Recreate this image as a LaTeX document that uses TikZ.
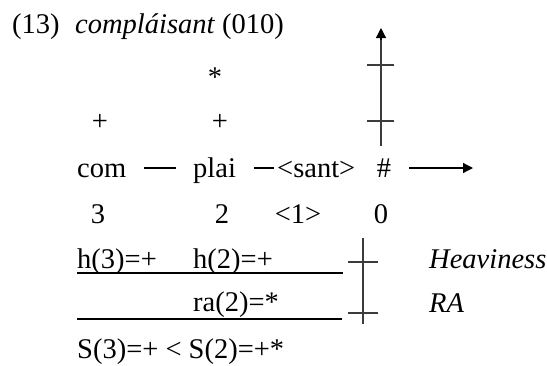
\documentclass[tikz,border=0pt]{standalone}
\usepackage{fontspec}
\setmainfont{Liberation Serif}
\usetikzlibrary{arrows.meta}
\definecolor{axisgray}{RGB}{60,60,60}
\tikzset{
  txt/.style={inner sep=0pt, anchor=base west, font=\fontsize{28.5}{32}\selectfont},
  ctxt/.style={inner sep=0pt, anchor=base, font=\fontsize{28.5}{32}\selectfont},
  itxt/.style={txt, font=\fontsize{28.5}{32}\selectfont\itshape},
  axisline/.style={axisgray, line width=1.3pt},
  tickline/.style={axisgray, line width=1.3pt},
  tip/.style={-{Triangle[length=10pt,width=10pt]}},
  syldash/.style={black, line width=1.2pt},
  rule/.style={black, line width=1.4pt}
}
\begin{document}
\begin{tikzpicture}[x=1pt,y=-1pt]
\useasboundingbox (0,0) rectangle (547,365);
% title
\node[txt] (num) at (12,33) {(13)};
\node[txt] (word) at (75,33) {\textit{compláisant} (010)};
% grid marks
\node[ctxt] (star) at (215,86) {*};
\node[ctxt] (plusA) at (100,130) {+};
\node[ctxt] (plusB) at (220,130) {+};
% syllables
\node[txt] (com) at (77,177) {com};
\node[txt] (plai) at (193,177) {plai};
\node[txt] (sant) at (277,177) {<sant>};
\node[ctxt] (hash) at (384,177) {\#};
\coordinate (d1a) at (144,168);
\coordinate (d1b) at (176,168);
\coordinate (d2a) at (254,168);
\coordinate (d2b) at (274,168);
\draw[syldash] (d1a) -- (d1b);
\draw[syldash] (d2a) -- (d2b);
% horizontal arrow
\coordinate (hA) at (409,168);
\coordinate (hB) at (473,168);
\draw[black, line width=1.2pt, tip] (hA) -- (hB);
% vertical axis
\coordinate (vA) at (381,146);
\coordinate (vM) at (381,40);
\coordinate (vB) at (381,28);
\draw[axisline] (vA) -- (vM);
\draw[black, line width=1.2pt, tip] (vM) -- (vB);
\coordinate (t1a) at (367,65);
\coordinate (t1b) at (394,65);
\coordinate (t2a) at (367,121);
\coordinate (t2b) at (394,121);
\draw[tickline] (t1a) -- (t1b);
\draw[tickline] (t2a) -- (t2b);
% numbers
\node[ctxt] (n3) at (98,223) {3};
\node[ctxt] (n2) at (222,223) {2};
\node[ctxt] (n1) at (298,223) {<1>};
\node[ctxt] (n0) at (381,223) {0};
% heaviness and RA
\node[txt] (h3) at (77,268) {h(3)=+};
\node[txt] (h2) at (193,268) {h(2)=+};
\coordinate (r1a) at (77,273);
\coordinate (r1b) at (343,273);
\draw[rule] (r1a) -- (r1b);
\node[txt] (ra2) at (193,311) {ra(2)=*};
\coordinate (r2a) at (77,319);
\coordinate (r2b) at (342,319);
\draw[rule] (r2a) -- (r2b);
\coordinate (wA) at (363,238);
\coordinate (wB) at (363,324);
\draw[axisline] (wA) -- (wB);
\coordinate (u1a) at (348,262);
\coordinate (u1b) at (378,262);
\coordinate (u2a) at (348,313);
\coordinate (u2b) at (378,313);
\draw[tickline] (u1a) -- (u1b);
\draw[tickline] (u2a) -- (u2b);
\node[itxt] (heavy) at (429,268) {Heaviness};
\node[itxt] (ra) at (429,312) {RA};
% sum
\node[txt] (sum) at (77,358) {S(3)=+ < S(2)=+*};
\end{tikzpicture}
\end{document}
